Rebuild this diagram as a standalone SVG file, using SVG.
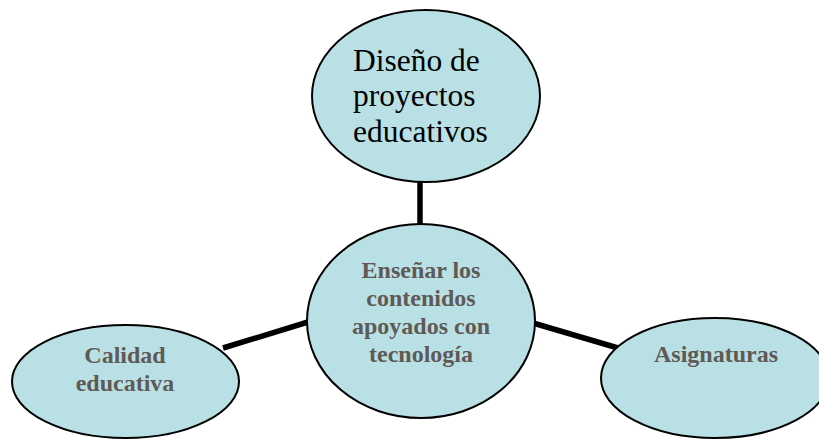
<svg xmlns="http://www.w3.org/2000/svg" width="819" height="439" viewBox="0 0 819 439">
<style>
.node{fill:#b9e0e4;stroke:#000;stroke-width:2}
.conn{stroke:#000;stroke-width:5.5;fill:none}
.b{font-family:"Liberation Serif","Times New Roman",serif;font-weight:bold;font-size:24px;fill:#5f5a55;text-anchor:middle}
.r{font-family:"Liberation Serif","Times New Roman",serif;font-size:31.5px;fill:#000}
</style>
<rect width="819" height="439" fill="#fff"/>
<g id="connectors">
<line class="conn" x1="420" y1="182" x2="420" y2="224"/>
<line class="conn" x1="223" y1="348" x2="308" y2="322"/>
<line class="conn" x1="533" y1="323" x2="618" y2="348"/>
</g>
<g id="n-top">
<ellipse class="node" cx="426" cy="96" rx="114" ry="86"/>
<text class="r"><tspan x="353" y="71">Diseño de</tspan><tspan x="353" y="106">proyectos</tspan><tspan x="353" y="142">educativos</tspan></text>
</g>
<g id="n-center">
<ellipse class="node" cx="421" cy="321" rx="114" ry="97"/>
<text class="b"><tspan x="421" y="278">Enseñar los</tspan><tspan x="421" y="306">contenidos</tspan><tspan x="421" y="334">apoyados con</tspan><tspan x="421" y="362">tecnología</tspan></text>
</g>
<g id="n-left">
<ellipse class="node" cx="125.5" cy="381.5" rx="113.5" ry="56.5"/>
<text class="b"><tspan x="125" y="363">Calidad</tspan><tspan x="125" y="391">educativa</tspan></text>
</g>
<g id="n-right">
<ellipse class="node" cx="715" cy="378" rx="114" ry="60"/>
<text class="b"><tspan x="716" y="362">Asignaturas</tspan></text>
</g>
</svg>
